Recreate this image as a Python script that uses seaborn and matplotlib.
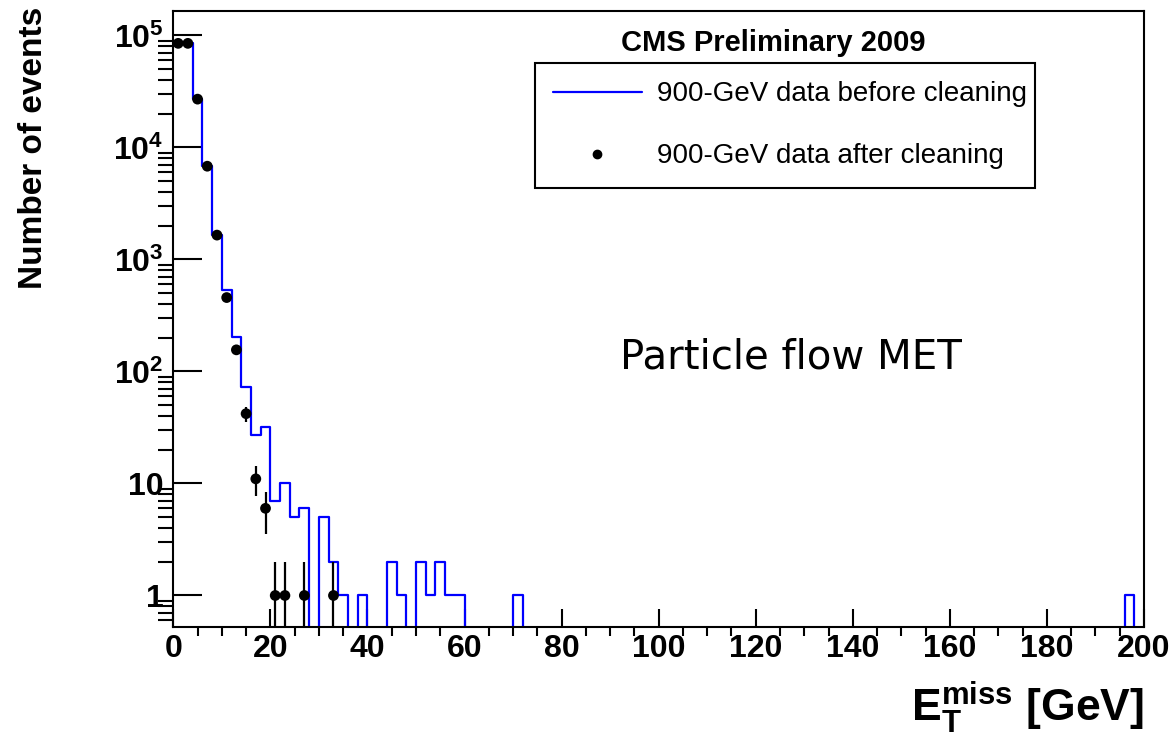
import numpy as np
import pandas as pd
import matplotlib
matplotlib.use("Agg")
import matplotlib.pyplot as plt
from matplotlib.lines import Line2D
from matplotlib.ticker import FixedLocator, FuncFormatter, LogLocator, MultipleLocator, NullFormatter
import seaborn as sns

# Missing transverse energy, 2 GeV bins from 0 to 200 GeV
bin_width = 2.0
met_range = (0.0, 200.0)
bin_edges = np.arange(met_range[0], met_range[1] + bin_width, bin_width)
bin_centers = (bin_edges[:-1] + bin_edges[1:]) / 2

# Events per bin before cleaning (bins 0..99)
before_counts = np.zeros(100)
before_counts[:36] = [
    88000, 86000, 27000, 6900, 1660, 532, 205, 73, 27, 32,
    7, 10, 5, 6, 0, 5, 2, 1, 0, 1,
    0, 0, 2, 1, 0, 2, 1, 2, 1, 1,
    0, 0, 0, 0, 0, 1,
]
before_counts[98] = 1

# Events per bin after cleaning (only non-empty bins are drawn)
after_counts = np.zeros(100)
after_counts[:17] = [
    85000, 85000, 27000, 6800, 1650, 457, 156, 42, 11, 6,
    1, 1, 0, 1, 0, 0, 1,
]

label_before = "900-GeV data before cleaning"
label_after = "900-GeV data after cleaning"
header = "CMS Preliminary 2009"
annotation = "Particle flow MET"
y_title = "Number of events"
x_title = r"$E_{T}^{miss}$ [GeV]"
y_major = [1, 10, 100, 1000, 10000, 100000]

sns.set_style("ticks")
plt.rcParams.update({
    "font.family": ["Liberation Sans", "DejaVu Sans"],
    "font.weight": "bold",
    "mathtext.fontset": "custom",
    "mathtext.rm": "Liberation Sans:bold",
    "mathtext.bf": "Liberation Sans:bold",
    "mathtext.it": "Liberation Sans:bold",
    "mathtext.default": "bf",
    "axes.linewidth": 1.5,
    "text.color": "black",
    "axes.labelcolor": "black",
    "axes.edgecolor": "black",
    "xtick.color": "black",
    "ytick.color": "black",
})

W, H = 1174, 736
fig = plt.figure(figsize=(W / 100, H / 100), dpi=100)
ax_l, ax_r, ax_t, ax_b = 173.3, 1144.0, 10.5, 627.3
ax = fig.add_axes([ax_l / W, 1 - ax_b / H, (ax_r - ax_l) / W, (ax_b - ax_t) / H])

before_df = pd.DataFrame({"met": bin_centers, "events": before_counts})
sns.histplot(data=before_df, x="met", weights="events", binwidth=bin_width,
             binrange=met_range, element="step", fill=False, color=(0, 0, 1),
             linewidth=1.6, ax=ax)

after_df = pd.DataFrame({"met": bin_centers, "events": after_counts})
after_df = after_df[after_df["events"] > 0]
ax.errorbar(after_df["met"], after_df["events"], yerr=np.sqrt(after_df["events"]),
            fmt="none", ecolor="black", elinewidth=1.6, capsize=0, zorder=3)
sns.scatterplot(data=after_df, x="met", y="events", color="black", s=60,
                edgecolor="none", linewidth=0, zorder=4, ax=ax)

ax.set_yscale("log")
ax.set_xlim(*met_range)
ax.set_ylim(0.52, 1.67e5)

ax.xaxis.set_major_locator(MultipleLocator(20))
ax.xaxis.set_minor_locator(MultipleLocator(5))
ax.yaxis.set_major_locator(FixedLocator(y_major))
ax.yaxis.set_minor_locator(LogLocator(base=10, subs=np.arange(2, 10)))
ax.yaxis.set_minor_formatter(NullFormatter())


def y_fmt(v, pos):
    if v < 5:
        return "1"
    if v < 50:
        return "10"
    return r"$10^{%d}$" % round(np.log10(v))


ax.yaxis.set_major_formatter(FuncFormatter(y_fmt))

ax.tick_params(direction="in", top=False, right=False, width=1.5, colors="black",
               labelsize=23)
ax.tick_params(axis="y", which="major", length=21, pad=7)
ax.tick_params(axis="y", which="minor", length=10.5, width=1.5)
ax.tick_params(axis="x", which="major", length=13, pad=5)
ax.tick_params(axis="x", which="minor", length=6.5, width=1.5)
for lab in ax.get_xticklabels() + ax.get_yticklabels():
    lab.set_fontweight("bold")

for s in ax.spines.values():
    s.set_color("black")
    s.set_linewidth(1.5)

ax.set_xlabel(x_title, fontsize=32, fontweight="bold", loc="right")
ax.xaxis.set_label_coords(1.0, -0.085)
ax.xaxis.label.set_va("top")
ax.set_ylabel(y_title, fontsize=24, fontweight="bold", loc="top")
ax.yaxis.set_label_coords(-0.1445, 1.006)
ax.yaxis.label.set_va("center")

handles = [
    Line2D([], [], color=(0, 0, 1), lw=1.6),
    Line2D([], [], color="black", marker="o", ms=6, ls="none"),
]
leg = ax.legend(handles, [label_before, label_after], loc="upper left",
                bbox_to_anchor=(0.3726, 0.7143, 0.5151, 0.2001), mode="expand",
                borderaxespad=0, fancybox=False, framealpha=1, edgecolor="black",
                prop={"family": "Liberation Sans", "weight": "normal", "size": 20},
                handlelength=3.2, handletextpad=0.55, borderpad=0.65, labelspacing=1.3)
leg.get_frame().set_linewidth(1.5)

ax.text(0.6177, 0.9348, header, transform=ax.transAxes, ha="center", va="baseline",
        fontsize=21, fontweight="bold")
ax.text(0.636, 0.4188, annotation, transform=ax.transAxes, ha="center", va="baseline",
        fontsize=29, fontweight="normal", family="DejaVu Sans")

fig.savefig("out.png", dpi=100)
